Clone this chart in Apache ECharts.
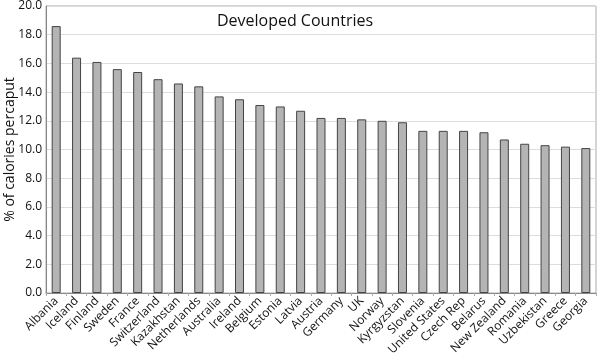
<!DOCTYPE html>
<html><head><meta charset="utf-8">
<script src="https://cdn.jsdelivr.net/npm/echarts@6/dist/echarts.min.js"></script>
<style>html,body{margin:0;padding:0;background:#fff}#c{width:600px;height:355px}</style>
</head><body><div id="c"></div>
<script>
const countries = ["Albania","Iceland","Finland","Sweden","France","Switzerland","Kazakhstan","Netherlands","Australia","Ireland","Belgium","Estonia","Latvia","Austria","Germany","UK","Norway","Kyrgyzstan","Slovenia","United States","Czech Rep","Belarus","New Zealand","Romania","Uzbekistan","Greece","Georgia"];
const values = [18.6,16.4,16.1,15.6,15.4,14.9,14.6,14.4,13.7,13.5,13.1,13.0,12.7,12.2,12.2,12.1,12.0,11.9,11.3,11.3,11.3,11.2,10.7,10.4,10.3,10.2,10.1];
const titleText = "Developed Countries";
const yAxisName = "% of calories percaput";
const FONT = "Open Sans";
const chart = echarts.init(document.getElementById('c'));
chart.setOption({
  animation:false,
  textStyle:{fontFamily:FONT},
  title:{text:titleText,left:290,top:8,textAlign:'center',textStyle:{fontFamily:FONT,fontSize:16,fontWeight:'normal',color:'#111'}},
  grid:{left:46,right:4,top:6,bottom:62,show:true,borderColor:'#aaa',borderWidth:1,outerBoundsMode:'none',containLabel:false},
  xAxis:{type:'category',data:countries,
    axisLine:{lineStyle:{color:'#888'}},
    axisTick:{show:true,length:3,lineStyle:{color:'#aaa'}},
    axisLabel:{rotate:45,fontSize:12,color:'#111',margin:6,interval:0,fontFamily:FONT}},
  yAxis:{type:'value',min:0,max:20,interval:2,name:yAxisName,nameLocation:'middle',nameGap:29,nameMoveOverlap:false,
    nameTextStyle:{fontSize:14,color:'#111',fontFamily:FONT},
    axisLine:{show:true,lineStyle:{color:'#888'}},
    axisTick:{show:false},
    splitLine:{lineStyle:{color:'#ddd'}},
    axisLabel:{fontSize:12,color:'#111',margin:4,formatter:v=>v.toFixed(1),fontFamily:FONT}},
  series:[{type:'bar',data:values,barWidth:9,itemStyle:{color:'#b4b4b4',borderColor:'#444',borderWidth:1}}]
});
</script></body></html>
